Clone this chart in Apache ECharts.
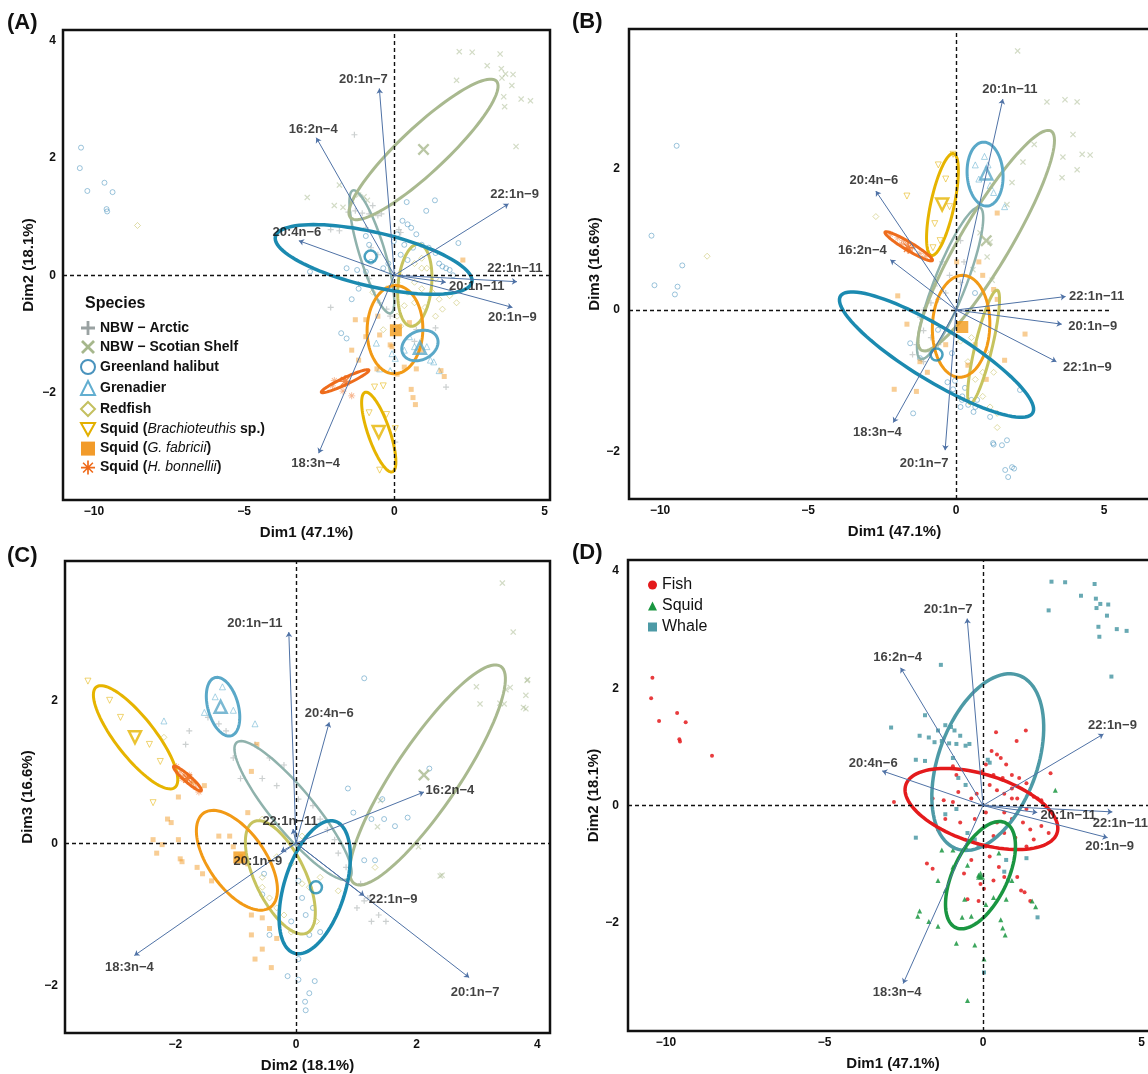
<!DOCTYPE html>
<html>
<head>
<meta charset="utf-8">
<script src="https://cdn.jsdelivr.net/npm/echarts@6.0.0/dist/echarts.min.js"></script>
<style>
html, body { margin: 0; padding: 0; background: #fff; }
#chart { width: 1148px; height: 1074px; }
</style>
</head>
<body>
<div id="chart"></div>
<script>
// 轴刻度与轴标题
const dim1Ticks = [-10, -5, 0, 5];
const dim2Ticks = [-2, 0, 2, 4];
const dim3Ticks = [-2, 0, 2];
const dim2TicksC = [-2, 0, 2, 4];
const xTitles = ['Dim1 (47.1%)', 'Dim1 (47.1%)', 'Dim2 (18.1%)', 'Dim1 (47.1%)'];
const yTitles = ['Dim2 (18.1%)', 'Dim3 (16.6%)', 'Dim3 (16.6%)', 'Dim2 (18.1%)'];

// 物种顺序（图例）
const speciesOrder = ['arctic', 'scotian', 'halibut', 'grenadier', 'redfish', 'brach', 'gfab', 'hbon'];
const speciesNames = ['NBW \u2212 Arctic', 'NBW \u2212 Scotian Shelf', 'Greenland halibut', 'Grenadier', 'Redfish',
  'Squid (Brachioteuthis sp.)', 'Squid (G. fabricii)', 'Squid (H. bonnellii)'];
const groupNames = ['Fish', 'Squid', 'Whale'];

// 脂肪酸载荷向量名称
const loadingNames = ['20:1n\u22127', '16:2n\u22124', '22:1n\u22129', '20:4n\u22126', '22:1n\u221211', '20:1n\u221211', '20:1n\u22129', '18:3n\u22124'];
const loadings12 = [[-0.5, 3.19], [-2.6, 2.35], [3.8, 1.22], [-3.18, 0.59], [4.08, -0.11], [1.71, -0.12], [3.93, -0.55], [-2.52, -3.04]];
const loadings13 = [[-0.37, -1.98], [-2.22, 0.71], [3.39, -0.73], [-2.71, 1.68], [3.7, 0.19], [1.58, 2.98], [3.57, -0.2], [-2.12, -1.59]];
const loadings23 = [[2.87, -1.89], [2.12, 0.72], [1.13, -0.74], [0.55, 1.7], [-0.05, 0.2], [-0.12, 2.97], [-0.25, -0.12], [-2.68, -1.58]];

// 个体得分 Dim1 / Dim2（A 与 D 共用）
const arctic12 = [[-0.72,1.19],[-1.53,1.08],[-1.3,1.1],[-1.07,1.06],[-0.84,1.05],[-0.55,1.02],[-0.43,1.05],[-2.12,0.78],[-1.83,0.76],[-0.95,0.81],[-0.78,0.47],[-0.55,0.35],[0.21,0.73],[0.15,0.78],[-0.84,-0.06],[-2.12,-0.55],[-0.49,-0.47],[-0.26,-0.58],[-0.14,-0.7],[0.73,-0.93],[0.67,-1.13],[0.79,-1.28],[1.37,-0.9],[1.72,-1.91],[0.03,-2.85],[-1.19,-0.15],[-1.33,2.4]];
const scotian12 = [[2.16,3.82],[2.59,3.81],[3.52,3.78],[2.07,3.33],[3.09,3.58],[3.56,3.53],[3.7,3.44],[3.95,3.43],[3.58,3.37],[3.91,3.24],[3.64,3.05],[4.22,3.01],[4.53,2.98],[3.67,2.88],[4.05,2.2],[-1.83,1.54],[-1.42,1.28],[-1.19,1.37],[-1.01,1.34],[-0.9,1.28],[-2.0,1.19],[-1.71,1.16],[-2.9,1.33]];
const halibut12 = [[-10.43,2.18],[-10.47,1.83],[-10.22,1.44],[-9.65,1.58],[-9.38,1.42],[-9.58,1.13],[-9.56,1.09],[0.41,1.25],[1.35,1.28],[1.06,1.1],[0.27,0.93],[0.44,0.87],[0.56,0.81],[0.73,0.7],[0.09,0.7],[-0.02,0.58],[0.33,0.52],[0.62,0.47],[0.91,0.52],[1.14,0.47],[1.37,0.38],[2.13,0.55],[1.49,0.2],[1.6,0.15],[1.72,0.12],[1.84,0.09],[1.95,0.0],[-0.95,0.67],[-0.84,0.52],[-0.2,0.2],[-0.37,0.12],[-0.78,0.23],[-0.95,0.06],[-1.24,0.09],[-1.59,0.12],[-2.81,0.06],[-1.19,-0.23],[-1.42,-0.41],[-1.77,-0.99],[-1.59,-1.08],[0.21,0.35],[0.44,0.26]];
const grenadier12 = [[0.5,-1.05],[1.08,-1.22],[1.2,-1.45],[1.31,-1.48],[1.49,-1.63],[0.67,-1.22],[0.33,-1.28],[0.03,-1.42],[-0.08,-1.34],[-0.14,-1.63],[-0.49,-1.6],[-0.6,-1.16]];
const redfish12 = [[0.67,0.2],[0.91,0.12],[1.08,0.12],[0.91,0.29],[1.37,-0.06],[0.67,-0.12],[0.91,-0.23],[1.26,-0.29],[1.49,-0.41],[1.84,-0.35],[2.07,-0.47],[1.6,-0.58],[1.37,-0.7],[1.02,-0.55],[0.67,-0.47],[0.33,-0.52],[0.44,-0.29],[0.09,-0.12],[-0.26,-0.23],[-0.72,-0.29],[0.09,-0.7],[0.21,-0.87],[-0.37,-0.93],[-8.55,0.85]];
const brach12 = [[-0.84,-2.35],[-0.26,-2.38],[-0.49,-3.33],[0.03,-2.62],[-0.66,-1.91],[-0.37,-1.89]];
const gfab12 = [[2.28,0.26],[1.55,-1.63],[1.66,-1.73],[0.62,-2.09],[0.7,-2.21],[-1.19,-1.45],[-0.95,-1.05],[-0.49,-1.02],[-0.14,-1.19],[-0.08,-1.22],[0.5,-0.81],[0.73,-1.6],[0.56,-1.95],[0.09,-1.69],[-1.3,-0.76],[-1.42,-1.28],[0.33,-1.57],[0.91,-1.28],[-0.95,-0.76],[-0.55,-0.7],[-0.58,-1.6]];
const hbon12 = [[-2.06,-1.89],[-2.0,-1.8],[-1.71,-1.98],[-1.42,-2.06]];

// 个体得分 Dim1 / Dim3（B）
const arctic13 = [[-0.22,0.49],[-0.35,0.24],[-0.6,0.15],[-0.85,0.1],[-1.1,0.0],[-1.22,-0.1],[-1.1,-0.29],[-0.85,-0.39],[-0.6,-0.49],[-1.34,-0.49],[-1.47,-0.63],[-1.1,-0.73],[-0.72,0.34],[-0.47,0.68],[0.15,0.98],[0.27,0.68],[-0.91,-0.59],[0.15,0.39]];
const scotian13 = [[3.07,2.94],[3.68,2.97],[4.09,2.94],[3.95,2.48],[4.53,2.19],[3.61,2.16],[4.09,1.98],[3.58,1.87],[2.26,2.09],[1.89,1.8],[1.72,1.49],[1.15,0.96],[0.81,1.09],[1.05,0.75],[0.57,0.57],[1.22,0.42],[2.08,3.66],[2.64,2.34],[4.26,2.2]];
const halibut13 = [[-10.29,1.05],[-9.25,0.63],[-10.19,0.35],[-9.41,0.33],[-9.5,0.22],[-9.44,2.32],[-1.55,-0.47],[-1.22,-0.68],[-0.61,-0.28],[-0.14,-0.61],[0.3,-1.1],[0.2,-1.27],[0.41,-1.34],[0.71,-1.27],[2.16,-1.13],[-1.45,-1.46],[1.25,-1.88],[1.55,-1.91],[1.72,-1.84],[1.66,-2.26],[1.89,-2.22],[1.76,-2.36],[0.64,0.24],[1.15,-1.51],[0.15,-1.37],[0.65,-1.37],[0.21,-1.22],[-0.1,-1.12],[0.59,-1.44],[-0.04,-1.0],[-0.29,-1.02],[0.52,-1.27],[1.27,-1.9],[1.96,-2.24]];
const grenadier13 = [[0.96,2.17],[1.08,2.05],[0.77,1.85],[1.15,1.76],[1.27,1.66],[1.64,1.46],[0.65,2.05]];
const redfish13 = [[0.4,-0.73],[0.65,-0.98],[0.9,-1.22],[1.15,-1.37],[1.39,-1.46],[1.02,-0.59],[0.52,-0.39],[0.15,-0.44],[1.27,-0.88],[1.39,-1.66],[0.9,-0.88],[-2.71,1.32],[-8.41,0.76]];
const brach13 = [[-0.6,2.05],[-0.35,1.85],[-0.22,1.46],[-0.72,1.22],[-0.54,0.98],[-0.1,2.2],[-0.78,0.88],[-1.66,1.61]];
const gfab13 = [[1.39,1.37],[0.02,0.68],[0.77,0.68],[0.9,0.49],[1.27,0.29],[1.39,0.15],[-1.66,-0.2],[2.33,-0.34],[1.64,-0.71],[-1.22,-0.73],[-0.97,-0.88],[-1.34,-1.15],[-0.35,-0.49],[0.65,-0.49],[0.4,-0.78],[1.02,-0.98],[-1.97,0.2],[-2.09,-1.12]];
const hbon13 = [[-2.22,1.07],[-1.97,1.02],[-1.78,0.98],[-1.66,0.93],[-1.47,0.88],[-1.22,0.8],[-1.03,0.76],[-1.59,0.85],[-1.84,0.93]];

// 个体得分 Dim2 / Dim3（C）
const arctic23 = [[-1.28,1.68],[-1.16,1.58],[-1.46,1.77],[-0.68,1.39],[-0.44,1.2],[-0.56,0.91],[-0.32,0.81],[-0.2,1.1],[-1.04,1.2],[-0.92,0.91],[0.04,0.62],[0.28,0.53],[0.4,0.34],[0.52,0.19],[0.64,0.05],[0.7,-0.14],[0.83,-0.34],[1.07,-0.57],[1.19,-0.77],[1.37,-1.01],[1.49,-1.1],[1.25,-1.1],[1.01,-0.91],[1.13,-0.81],[-1.77,1.58],[-1.83,1.39]];
const scotian23 = [[3.42,3.66],[3.6,2.97],[3.84,2.3],[2.99,2.2],[3.48,2.16],[3.81,2.08],[3.05,1.96],[3.45,1.96],[3.81,1.89],[2.39,-0.46],[2.03,-0.05],[3.55,2.19],[3.83,2.29],[3.77,1.91],[3.38,1.97],[2.42,-0.45],[1.4,0.6],[1.35,0.23]];
const halibut23 = [[1.13,2.32],[0.86,0.77],[1.43,0.62],[0.95,0.43],[1.25,0.34],[1.46,0.34],[1.64,0.24],[1.85,0.36],[2.21,1.05],[-0.14,-1.87],[0.04,-1.92],[0.31,-1.94],[0.22,-2.11],[0.15,-2.23],[0.16,-2.35],[0.04,-0.53],[0.1,-0.77],[0.28,-0.91],[0.16,-1.01],[-0.08,-1.1],[-0.44,-1.29],[0.22,-1.29],[0.4,-1.25],[1.13,-0.24],[1.31,-0.24],[-0.53,-0.43],[-0.56,-0.72],[0.04,-1.63]];
const grenadier23 = [[-1.22,2.2],[-1.34,2.06],[-1.04,1.87],[-1.52,1.84],[-0.68,1.68],[-2.19,1.72]];
const redfish23 = [[-0.44,-0.77],[-0.32,-0.91],[-0.56,-0.62],[-0.2,-1.01],[-0.08,-1.25],[0.22,-0.62],[0.34,-1.1],[0.1,-0.57],[0.7,-0.67],[-0.56,-0.48],[-0.08,-0.29],[-0.32,-0.19],[-0.56,0.34],[0.1,0.1],[0.4,-0.48],[-2.19,1.49],[1.31,-0.34]];
const brach23 = [[-3.45,2.28],[-3.09,2.01],[-2.91,1.77],[-2.43,1.39],[-2.25,1.15],[-2.37,0.57]];
const gfab23 = [[-1.95,0.65],[-1.7,0.86],[-2.13,0.34],[-2.07,0.29],[-1.95,0.05],[-2.22,-0.02],[-2.31,-0.14],[-1.92,-0.22],[-1.89,-0.26],[-1.64,-0.34],[-1.55,-0.43],[-1.4,-0.53],[-1.28,0.1],[-1.1,0.1],[-1.04,-0.05],[-0.92,-0.19],[-0.8,-0.29],[-0.74,-1.01],[-0.56,-1.05],[-0.44,-1.2],[-0.56,-1.49],[-0.74,-1.29],[-0.32,-1.34],[-0.68,-1.63],[-0.41,-1.75],[-1.52,0.81],[-0.8,0.43],[-0.65,1.39],[-0.74,1.01],[-2.37,0.05]];
const hbon23 = [[-1.98,1.08],[-1.92,1.01],[-1.86,0.96],[-1.8,0.91],[-1.73,0.85],[-1.67,0.79],[-1.61,0.72],[-1.89,0.91],[-1.77,0.96]];

// 物种质心
const centroids12 = [['halibut',-0.79,0.32],['grenadier',0.85,-1.24],['scotian',0.97,2.15],['brach',-0.52,-2.68],['gfab',0.05,-0.94],['hbon',-1.64,-1.81]];
const centroids13 = [['halibut',-0.66,-0.63],['grenadier',1.02,1.93],['scotian',1.02,0.98],['brach',-0.47,1.49],['gfab',0.21,-0.24],['hbon',-1.62,0.88]];
const centroids23 = [['halibut',0.33,-0.62],['grenadier',-1.25,1.92],['scotian',2.12,0.96],['brach',-2.67,1.49],['gfab',-0.94,-0.2],['hbon',-1.8,0.91]];
const groupCentroids12 = [['Squid',-0.08,-1.19]];

// 置信椭圆：中心 cx,cy；共轭半轴 (ax,ay) 与 (bx,by)
const ellipses12 = [
  ['arctic', -0.75, 0.4, -0.63, 1.05, 0.4, 0.07],
  ['scotian', 0.97, 2.15, 2.42, 1.17, 0.55, -0.27],
  ['redfish', 0.68, -0.17, 0.15, 0.7, 0.55, -0.05],
  ['gfab', 0.02, -0.93, 0.12, 0.75, 0.92, -0.08],
  ['grenadier', 0.85, -1.2, 0.57, 0.14, 0.2, -0.22],
  ['brach', -0.52, -2.68, -0.45, 0.68, 0.35, 0.05],
  ['hbon', -1.64, -1.81, 0.79, 0.19, 0.055, -0.052],
  ['halibut', -0.69, 0.27, 3.27, -0.39, -0.2, -0.45]
];
const ellipses13 = [
  ['arctic', -0.2, 0.38, 1.0, 1.07, 0.5, -0.08],
  ['scotian', 1.02, 0.98, 2.18, 1.55, 0.75, -0.16],
  ['redfish', 0.93, -0.52, 0.46, 0.8, 0.28, -0.03],
  ['gfab', 0.17, -0.23, 0.05, 0.72, 0.97, 0],
  ['grenadier', 0.98, 1.92, -0.1, 0.45, 0.6, 0.04],
  ['brach', -0.46, 1.49, 0.37, 0.72, 0.39, -0.03],
  ['hbon', -1.6, 0.9, 0.8, -0.2, -0.07, -0.05],
  ['halibut', -0.66, -0.63, 3.24, -0.83, 0.51, 0.31]
];
const ellipses23 = [
  ['arctic', -0.05, 0.46, 0.93, -0.96, 0.28, 0.18],
  ['scotian', 2.18, 0.96, 1.21, 1.53, 0.45, -0.24],
  ['redfish', -0.26, -0.48, -0.42, 0.79, 0.4, 0.11],
  ['gfab', -0.98, -0.24, -0.54, 0.67, 0.4, 0.21],
  ['grenadier', -1.21, 1.92, -0.13, 0.41, 0.245, 0.05],
  ['brach', -2.66, 1.49, -0.645, 0.71, 0.27, 0.154],
  ['hbon', -1.8, 0.91, 0.23, -0.17, -0.03, -0.04],
  ['halibut', 0.31, -0.62, 0.33, 0.93, 0.49, -0.11]
];
const groupEllipses12 = [
  ['Whale', 0.15, 0.74, 0.93, 1.49, 1.5, -0.23],
  ['Fish', -0.05, -0.06, 2.38, -0.42, 0.38, 0.55],
  ['Squid', -0.08, -1.19, 0.76, 0.9, 0.8, -0.17]
];

// ---------- 样式 ----------
const FONT = '"Liberation Sans", Arial, Helvetica, sans-serif';
const INK = '#111';
const PLUS = 'path://M4,0H6V4H10V6H6V10H4V6H0V4H4Z';
const CROSS = 'path://M1.4,0L5,3.6L8.6,0L10,1.4L6.4,5L10,8.6L8.6,10L5,6.4L1.4,10L0,8.6L3.6,5L0,1.4Z';
const ASTER = 'path://M4.4,0H5.6V3.6L8.1,1.1L8.9,1.9L6.4,4.4H10V5.6H6.4L8.9,8.1L8.1,8.9L5.6,6.4V10H4.4V6.4L1.9,8.9L1.1,8.1L3.6,5.6H0V4.4H3.6L1.1,1.9L1.9,1.1L4.4,3.6Z';
const DOWNTRI = 'path://M0,0L10,0L5,9Z';

const speciesStyle = {
  arctic:    { color: '#9aa2a2', ell: '#8fb2ac', symbol: PLUS, hollow: false, size: 6, lw: 2.5 },
  scotian:   { color: '#a6b78c', ell: '#a9b98f', symbol: CROSS, hollow: false, size: 6, lw: 3 },
  halibut:   { color: '#4a93bd', ell: '#1b8ab0', symbol: 'circle', hollow: true, size: 5, lw: 3.5 },
  grenadier: { color: '#62aed0', ell: '#5aa8c8', symbol: 'triangle', hollow: true, size: 6, lw: 3 },
  redfish:   { color: '#c4c060', ell: '#c6c35e', symbol: 'diamond', hollow: true, size: 6, lw: 3 },
  brach:     { color: '#e3b000', ell: '#e6b400', symbol: DOWNTRI, hollow: true, size: 6, lw: 3 },
  gfab:      { color: '#f29b2a', ell: '#f29a16', symbol: 'rect', hollow: false, size: 5, lw: 3 },
  hbon:      { color: '#ef6a1a', ell: '#ee6c1c', symbol: ASTER, hollow: false, size: 7, lw: 3 }
};
const groupStyle = {
  Fish:  { color: '#e41a1c', symbol: 'circle', size: 4 },
  Squid: { color: '#1a9641', symbol: 'triangle', size: 5 },
  Whale: { color: '#4d9aa6', symbol: 'rect', size: 4 }
};

// 面板布局（像素）
const layout = [
  { left: 63, top: 30, width: 487, height: 470, x: [-11.03, 5.18], y: [-3.84, 4.19], xt: dim1Ticks, yt: dim2Ticks, yGap: 27, yMargin: 7 },
  { left: 629, top: 29, width: 531, height: 470, x: [-11.05, 6.89], y: [-2.67, 3.97], xt: dim1Ticks, yt: dim3Ticks, yGap: 24, yMargin: 9 },
  { left: 65, top: 561, width: 485, height: 472, x: [-3.83, 4.21], y: [-2.67, 3.97], xt: dim2TicksC, yt: dim3Ticks, yGap: 30, yMargin: 7 },
  { left: 628, top: 560, width: 530, height: 471, x: [-11.2, 5.52], y: [-3.85, 4.19], xt: dim1Ticks, yt: dim2Ticks, yGap: 23, yMargin: 9 }
];
// 载荷标签相对箭头端点的偏移（像素）
const labelNudge = [
  [[-16, -9], [-3, -8], [6, -9], [-2, -8], [-2, -13], [31, 4], [0, 10], [-3, 10]],
  [[-21, 13], [-28, -9], [31, 6], [-2, -11], [31, 0], [7, -10], [31, 2], [-16, 10]],
  [[6, 15], [26, -2], [29, 4], [0, -9], [-3, -8], [-34, -9], [-23, 10], [-5, 12]],
  [[-19, -9], [-3, -10], [9, -9], [-9, -7], [8, 12], [31, 3], [2, 9], [-6, 9]]
];

const fmtTick = v => (v < 0 ? '\u2212' + Math.abs(v) : String(v));
const labelOf = key => speciesNames[speciesOrder.indexOf(key)];

function ellipseSeries(list, axis, styleOf) {
  return {
    type: 'custom',
    xAxisIndex: axis, yAxisIndex: axis,
    silent: true, z: 3,
    data: list.map(e => e.slice(1)),
    encode: { x: 0, y: 1 },
    renderItem: function (params, api) {
      const st = styleOf(list[params.dataIndex][0]);
      const cx = api.value(0), cy = api.value(1);
      const ax = api.value(2), ay = api.value(3), bx = api.value(4), by = api.value(5);
      const pts = [];
      for (let k = 0; k <= 96; k++) {
        const t = (k / 96) * Math.PI * 2;
        pts.push(api.coord([cx + Math.cos(t) * ax + Math.sin(t) * bx, cy + Math.cos(t) * ay + Math.sin(t) * by]));
      }
      return { type: 'polygon', shape: { points: pts }, style: { fill: 'none', stroke: st.color, lineWidth: st.width } };
    }
  };
}

function speciesPoints(key, pts, axis) {
  const s = speciesStyle[key];
  return {
    type: 'scatter', name: labelOf(key), xAxisIndex: axis, yAxisIndex: axis,
    data: pts, symbol: s.symbol, symbolSize: s.size, silent: true, z: 2,
    itemStyle: s.hollow
      ? { color: 'rgba(255,255,255,0)', borderColor: s.color, borderWidth: 1, opacity: 0.55 }
      : { color: s.color, opacity: 0.5 }
  };
}

function centroidSeries(list, axis) {
  return {
    type: 'scatter', xAxisIndex: axis, yAxisIndex: axis, silent: true, z: 4,
    data: list.map(c => {
      const s = speciesStyle[c[0]];
      return {
        value: [c[1], c[2]], symbol: s.symbol, symbolSize: 12,
        itemStyle: s.hollow
          ? { color: 'rgba(255,255,255,0)', borderColor: s.ell, borderWidth: 2.5 }
          : { color: s.ell }
      };
    })
  };
}

function arrowSeries(loads, axis) {
  return {
    type: 'lines', coordinateSystem: 'cartesian2d', xAxisIndex: axis, yAxisIndex: axis,
    silent: true, z: 5,
    data: loads.map(l => ({ coords: [[0, 0], [l[0], l[1]]] })),
    symbol: ['none', 'arrow'], symbolSize: 5,
    lineStyle: { color: '#4f72a6', width: 1, opacity: 1 }
  };
}

function labelSeries(loads, axis) {
  const hLine = axis === 1 ? [{ coord: [layout[1].x[0], 0] }, { coord: [5.25, 0] }] : { yAxis: 0 };
  return {
    type: 'scatter', xAxisIndex: axis, yAxisIndex: axis, silent: true, z: 6,
    symbolSize: 1, itemStyle: { color: 'rgba(0,0,0,0)' },
    data: loads.map((l, k) => ({ name: loadingNames[k], value: l, label: { offset: labelNudge[axis][k] } })),
    label: {
      show: true, position: 'inside', formatter: p => p.name,
      fontFamily: FONT, fontSize: 13, fontWeight: 'bold', color: INK
    },
    markLine: {
      silent: true, symbol: 'none', label: { show: false },
      lineStyle: { type: [4, 3], color: INK, width: 1.4 },
      data: [{ xAxis: 0 }, hLine]
    }
  };
}

const speciesEll = key => ({ color: speciesStyle[key].ell, width: speciesStyle[key].lw });
const groupEll = key => ({ color: groupStyle[key].color, width: 3.5 });

const scoreSets = [
  { arctic: arctic12, scotian: scotian12, halibut: halibut12, grenadier: grenadier12, redfish: redfish12, brach: brach12, gfab: gfab12, hbon: hbon12 },
  { arctic: arctic13, scotian: scotian13, halibut: halibut13, grenadier: grenadier13, redfish: redfish13, brach: brach13, gfab: gfab13, hbon: hbon13 },
  { arctic: arctic23, scotian: scotian23, halibut: halibut23, grenadier: grenadier23, redfish: redfish23, brach: brach23, gfab: gfab23, hbon: hbon23 }
];
const ellipseSets = [ellipses12, ellipses13, ellipses23];
const centroidSets = [centroids12, centroids13, centroids23];
const loadingSets = [loadings12, loadings13, loadings23, loadings12];

const series = [];
for (let p = 0; p < 3; p++) {
  speciesOrder.forEach(k => series.push(speciesPoints(k, scoreSets[p][k], p)));
  series.push(ellipseSeries(ellipseSets[p], p, speciesEll));
  series.push(centroidSeries(centroidSets[p], p));
}
// D：按类群合并
const groupData = {
  Fish: halibut12.concat(grenadier12, redfish12),
  Squid: brach12.concat(gfab12, hbon12),
  Whale: arctic12.concat(scotian12)
};
groupNames.forEach(g => {
  const s = groupStyle[g];
  series.push({
    type: 'scatter', name: g, xAxisIndex: 3, yAxisIndex: 3, silent: true, z: 2,
    data: groupData[g], symbol: s.symbol, symbolSize: s.size,
    itemStyle: { color: s.color, opacity: 0.85 }
  });
});
series.push(ellipseSeries(groupEllipses12, 3, groupEll));
series.push({
  type: 'scatter', xAxisIndex: 3, yAxisIndex: 3, silent: true, z: 4,
  data: groupCentroids12.map(c => [c[1], c[2]]), symbol: 'triangle', symbolSize: 9,
  itemStyle: { color: groupStyle.Squid.color }
});
for (let p = 0; p < 4; p++) {
  series.push(arrowSeries(loadingSets[p], p));
  series.push(labelSeries(loadingSets[p], p));
}

const axisText = { fontFamily: FONT, fontWeight: 'bold', color: INK };
const option = {
  animation: false,
  backgroundColor: '#fff',
  title: [
    { text: '(A)', left: 7, top: 12, padding: 0, textStyle: Object.assign({ fontSize: 22 }, axisText) },
    { text: '(B)', left: 572, top: 11, padding: 0, textStyle: Object.assign({ fontSize: 22 }, axisText) },
    { text: '(C)', left: 7, top: 545, padding: 0, textStyle: Object.assign({ fontSize: 22 }, axisText) },
    { text: '(D)', left: 572, top: 542, padding: 0, textStyle: Object.assign({ fontSize: 22 }, axisText) },
    { text: 'Species', left: 85, top: 296, padding: 0, textStyle: Object.assign({ fontSize: 16 }, axisText) }
  ],
  legend: [
    {
      left: 80, top: 321, orient: 'vertical', selectedMode: false,
      itemWidth: 14, itemHeight: 14, itemGap: 5, padding: 0,
      data: speciesOrder.map((k, i) => {
        const s = speciesStyle[k];
        return {
          name: speciesNames[i], icon: s.symbol,
          itemStyle: s.hollow
            ? { color: 'rgba(255,255,255,0)', borderColor: s.color, borderWidth: 2, opacity: 1 }
            : { color: s.color, borderWidth: 0, opacity: 1 }
        };
      }),
      formatter: function (name) {
        if (name.indexOf('Brachioteuthis') >= 0) return 'Squid ({i|Brachioteuthis} sp.)';
        if (name.indexOf('fabricii') >= 0) return 'Squid ({i|G. fabricii})';
        if (name.indexOf('bonnellii') >= 0) return 'Squid ({i|H. bonnellii})';
        return name;
      },
      textStyle: {
        fontFamily: FONT, fontSize: 14, fontWeight: 'bold', color: INK,
        rich: { i: { fontFamily: FONT, fontSize: 14, fontStyle: 'italic', fontWeight: 'normal', color: INK } }
      }
    },
    {
      left: 648, top: 577, orient: 'vertical', selectedMode: false,
      itemWidth: 9, itemHeight: 9, itemGap: 5, padding: 0,
      data: groupNames.map(g => ({ name: g, icon: groupStyle[g].symbol, itemStyle: { color: groupStyle[g].color, opacity: 1 } })),
      textStyle: { fontFamily: FONT, fontSize: 16, color: INK }
    }
  ],
  grid: layout.map(l => ({
    left: l.left, top: l.top, width: l.width, height: l.height,
    show: true, borderColor: INK, borderWidth: 2.5, backgroundColor: 'rgba(0,0,0,0)',
    containLabel: false, outerBoundsMode: 'none'
  })),
  xAxis: layout.map((l, i) => ({
    type: 'value', gridIndex: i, min: l.x[0], max: l.x[1],
    name: xTitles[i], nameLocation: 'middle', nameGap: 25,
    nameTextStyle: Object.assign({ fontSize: 15 }, axisText),
    axisLine: { show: false }, axisTick: { show: false }, splitLine: { show: false },
    axisLabel: Object.assign({ customValues: l.xt, fontSize: 12, margin: 6, formatter: fmtTick }, axisText)
  })),
  yAxis: layout.map((l, i) => ({
    type: 'value', gridIndex: i, min: l.y[0], max: l.y[1],
    name: yTitles[i], nameLocation: 'middle', nameGap: l.yGap,
    nameTextStyle: Object.assign({ fontSize: 15 }, axisText),
    axisLine: { show: false }, axisTick: { show: false }, splitLine: { show: false },
    axisLabel: Object.assign({ customValues: l.yt, fontSize: 12, margin: l.yMargin, formatter: fmtTick }, axisText)
  })),
  series: series
};

const chart = echarts.init(document.getElementById('chart'));
chart.setOption(option);
</script>
</body>
</html>
